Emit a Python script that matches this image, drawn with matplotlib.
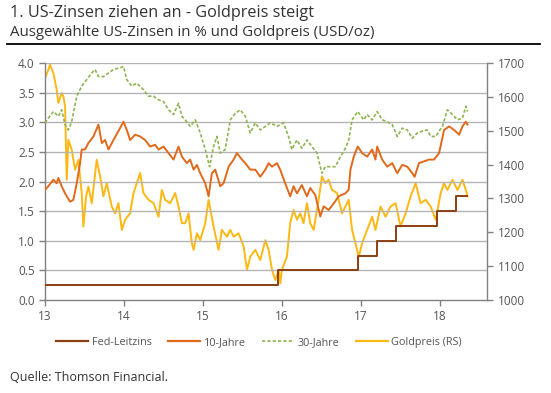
import matplotlib
matplotlib.use("Agg")
import matplotlib.pyplot as plt
from matplotlib.lines import Line2D

plt.rcParams["font.family"] = ["Open Sans", "DejaVu Sans"]

# Fed funds target (upper step values), left axis
fed_x = [13.0, 15.95, 16.96, 17.2, 17.45, 17.96, 18.21, 18.35]
fed_y = [0.25, 0.5, 0.75, 1.0, 1.25, 1.5, 1.75, 1.75]

# 10-year yield, left axis
y10_x = [13.000, 13.042, 13.106, 13.148, 13.169, 13.211, 13.254, 13.317, 13.359, 13.402,
         13.444, 13.465, 13.507, 13.550, 13.613, 13.677, 13.719, 13.761, 13.803, 13.867,
         13.930, 13.994, 14.036, 14.078, 14.142, 14.205, 14.268, 14.332, 14.395, 14.438,
         14.501, 14.564, 14.628, 14.691, 14.734, 14.797, 14.839, 14.882, 14.924, 14.966,
         15.030, 15.072, 15.114, 15.156, 15.220, 15.262, 15.326, 15.389, 15.431, 15.495,
         15.537, 15.600, 15.664, 15.727, 15.791, 15.833, 15.875, 15.939, 15.979, 16.042,
         16.106, 16.148, 16.191, 16.254, 16.318, 16.360, 16.424, 16.487, 16.530, 16.593,
         16.657, 16.720, 16.805, 16.847, 16.869, 16.911, 16.962, 17.017, 17.081, 17.144,
         17.186, 17.208, 17.271, 17.335, 17.398, 17.462, 17.525, 17.589, 17.653, 17.682,
         17.737, 17.801, 17.864, 17.928, 17.992, 18.055, 18.119, 18.182, 18.246, 18.288,
         18.331, 18.352]
y10_y = [1.86, 1.92, 2.03, 1.97, 2.06, 1.92, 1.80, 1.66, 1.69, 1.97,
         2.31, 2.54, 2.54, 2.65, 2.76, 2.96, 2.65, 2.70, 2.54, 2.70,
         2.85, 3.01, 2.87, 2.70, 2.79, 2.76, 2.70, 2.59, 2.62, 2.54,
         2.59, 2.48, 2.37, 2.59, 2.42, 2.31, 2.37, 2.20, 2.28, 2.14,
         1.97, 1.75, 2.14, 2.20, 1.92, 1.97, 2.25, 2.37, 2.48, 2.37,
         2.31, 2.20, 2.20, 2.08, 2.20, 2.31, 2.25, 2.31, 2.20, 1.97,
         1.75, 1.92, 1.80, 1.94, 1.75, 1.89, 1.77, 1.41, 1.58, 1.52,
         1.63, 1.75, 1.80, 1.86, 2.20, 2.42, 2.59, 2.48, 2.42, 2.54,
         2.37, 2.59, 2.37, 2.25, 2.31, 2.14, 2.28, 2.25, 2.14, 2.08,
         2.31, 2.34, 2.37, 2.37, 2.48, 2.87, 2.93, 2.87, 2.79, 2.93,
         3.01, 2.96]

# 30-year yield, left axis
y30_x = [13.000, 13.042, 13.106, 13.169, 13.211, 13.254, 13.296, 13.338, 13.402, 13.465,
         13.529, 13.592, 13.634, 13.677, 13.740, 13.803, 13.867, 13.951, 13.994, 14.036,
         14.099, 14.163, 14.247, 14.311, 14.374, 14.438, 14.501, 14.564, 14.628, 14.691,
         14.734, 14.776, 14.839, 14.903, 14.966, 15.030, 15.085, 15.135, 15.178, 15.220,
         15.283, 15.347, 15.410, 15.474, 15.537, 15.600, 15.664, 15.727, 15.791, 15.854,
         15.939, 16.021, 16.085, 16.127, 16.191, 16.254, 16.318, 16.381, 16.445, 16.508,
         16.551, 16.614, 16.678, 16.742, 16.805, 16.847, 16.890, 16.962, 17.038, 17.081,
         17.144, 17.208, 17.271, 17.335, 17.398, 17.462, 17.525, 17.589, 17.653, 17.716,
         17.780, 17.843, 17.886, 17.949, 17.992, 18.034, 18.097, 18.161, 18.225, 18.288,
         18.331, 18.352]
y30_y = [2.99, 3.07, 3.18, 3.10, 3.21, 2.96, 2.87, 3.01, 3.44, 3.61,
         3.72, 3.83, 3.89, 3.77, 3.77, 3.83, 3.89, 3.92, 3.94, 3.72,
         3.61, 3.66, 3.55, 3.44, 3.44, 3.38, 3.35, 3.21, 3.13, 3.32,
         3.10, 3.04, 2.93, 3.04, 2.82, 2.54, 2.25, 2.59, 2.76, 2.48,
         2.54, 3.04, 3.15, 3.21, 3.10, 2.82, 2.99, 2.87, 2.93, 2.99,
         2.93, 2.99, 2.76, 2.54, 2.70, 2.56, 2.70, 2.59, 2.48, 2.14,
         2.25, 2.25, 2.25, 2.42, 2.56, 2.70, 3.04, 3.18, 3.04, 3.13,
         3.04, 3.18, 3.04, 3.01, 2.96, 2.76, 2.90, 2.87, 2.73, 2.82,
         2.85, 2.87, 2.76, 2.76, 2.85, 2.93, 3.21, 3.13, 3.04, 3.07,
         3.27, 3.18]

# Gold price in USD/oz, right axis
gold_x = [13.000, 13.042, 13.063, 13.106, 13.148, 13.169, 13.211, 13.233, 13.254, 13.275,
          13.296, 13.338, 13.381, 13.423, 13.465, 13.486, 13.520, 13.550, 13.592, 13.655,
          13.698, 13.740, 13.782, 13.846, 13.888, 13.930, 13.973, 14.015, 14.078, 14.121,
          14.163, 14.205, 14.247, 14.311, 14.374, 14.438, 14.480, 14.522, 14.586, 14.649,
          14.691, 14.734, 14.776, 14.818, 14.860, 14.882, 14.924, 14.966, 15.030, 15.072,
          15.135, 15.199, 15.241, 15.304, 15.347, 15.389, 15.452, 15.516, 15.558, 15.600,
          15.664, 15.727, 15.791, 15.833, 15.875, 15.918, 15.960, 15.981, 16.000, 16.064,
          16.106, 16.148, 16.191, 16.233, 16.275, 16.318, 16.360, 16.403, 16.466, 16.508,
          16.551, 16.593, 16.636, 16.699, 16.763, 16.805, 16.847, 16.890, 16.932, 16.975,
          17.017, 17.081, 17.144, 17.186, 17.250, 17.314, 17.377, 17.441, 17.504, 17.568,
          17.631, 17.695, 17.758, 17.822, 17.886, 17.949, 18.013, 18.055, 18.097, 18.161,
          18.225, 18.288, 18.331, 18.352]
gold_y = [1656, 1680, 1695, 1670, 1621, 1582, 1611, 1601, 1572, 1355,
          1473, 1444, 1385, 1414, 1316, 1217, 1306, 1335, 1286, 1414,
          1365, 1306, 1345, 1276, 1256, 1286, 1207, 1237, 1256, 1316,
          1345, 1375, 1316, 1296, 1286, 1246, 1325, 1296, 1286, 1316,
          1276, 1227, 1227, 1256, 1168, 1148, 1197, 1177, 1227, 1296,
          1217, 1148, 1207, 1187, 1207, 1187, 1197, 1158, 1089, 1128,
          1148, 1118, 1177, 1148, 1089, 1059, 1089, 1049, 1089, 1128,
          1227, 1266, 1237, 1256, 1227, 1286, 1227, 1207, 1296, 1365,
          1345, 1355, 1325, 1316, 1256, 1276, 1296, 1207, 1168, 1128,
          1168, 1207, 1246, 1207, 1276, 1246, 1276, 1286, 1217, 1256,
          1306, 1345, 1286, 1296, 1276, 1237, 1316, 1345, 1325, 1355,
          1325, 1355, 1325, 1306]

x_ticks = [13, 14, 15, 16, 17, 18]
left_ticks = [0.0, 0.5, 1.0, 1.5, 2.0, 2.5, 3.0, 3.5, 4.0]
right_ticks = [1000, 1100, 1200, 1300, 1400, 1500, 1600, 1700]

C_FED = "#8C3F12"
C_10 = "#E0691C"
C_30 = "#8DB451"
C_GOLD = "#FDB813"
C_AXIS = "#808080"
C_TEXT = "#555555"

fig = plt.figure(figsize=(5.51, 3.93), dpi=100)
ax = fig.add_axes([0.0817, 0.2366, 0.8023, 0.6031])
ax2 = ax.twinx()

ax.set_xlim(13, 18.6)
ax.set_ylim(0, 4)
ax2.set_ylim(1000, 1700)
ax.set_yticks(left_ticks)
ax.set_yticklabels([f"{v:.1f}" for v in left_ticks])
ax2.set_yticks(right_ticks)
ax.set_xticks(x_ticks)
ax.set_xticklabels([str(v) for v in x_ticks])

for v in left_ticks[1:]:
    ax.axhline(v, color="#b4b4b4", lw=1.0, zorder=0)

ax.plot(fed_x, fed_y, color=C_FED, lw=1.4, drawstyle="steps-post", zorder=3)
ax.plot(y10_x, y10_y, color=C_10, lw=1.4, zorder=3)
ax.plot(y30_x, y30_y, color=C_30, lw=1.2, ls=(0, (2, 1.2)), zorder=3)
ax2.plot(gold_x, gold_y, color=C_GOLD, lw=1.4, zorder=3)

ax.set_zorder(ax2.get_zorder() + 1)
ax.patch.set_visible(False)

for a in (ax, ax2):
    a.spines["top"].set_visible(False)
    for s in ("left", "right", "bottom"):
        a.spines[s].set_color(C_AXIS)
        a.spines[s].set_linewidth(1.0)
    a.tick_params(colors=C_AXIS, labelcolor=C_TEXT, labelsize=8.5, length=4, width=1)
ax.spines["right"].set_visible(False)
ax2.spines["left"].set_visible(False)
ax2.spines["bottom"].set_visible(False)

handles = [
    Line2D([], [], color=C_FED, lw=1.6),
    Line2D([], [], color=C_10, lw=1.6),
    Line2D([], [], color=C_30, lw=1.2, ls=(0, (2, 1.2))),
    Line2D([], [], color=C_GOLD, lw=1.6),
]
labels = ["Fed-Leitzins", "10-Jahre", "30-Jahre", "Goldpreis (RS)"]
fig.legend(handles, labels, loc="center", bbox_to_anchor=(0.47, 0.128), ncol=4,
           frameon=False, fontsize=7.8, handlelength=3.0, handletextpad=0.3,
           columnspacing=1.5, labelcolor=C_TEXT)

fig.text(0.018, 0.968, "1. US-Zinsen ziehen an - Goldpreis steigt", fontsize=11.7,
         color="#333333", va="center", ha="left")
fig.text(0.018, 0.918, "Ausgewählte US-Zinsen in % und Goldpreis (USD/oz)", fontsize=10.8,
         color="#333333", va="center", ha="left")
fig.add_artist(Line2D([0.013, 0.98], [0.888, 0.888], color="black", lw=1.3,
                      transform=fig.transFigure))
fig.text(0.018, 0.04, "Quelle: Thomson Financial.", fontsize=9, color="#333333",
         va="center", ha="left")

fig.savefig("out.png", dpi=100)
